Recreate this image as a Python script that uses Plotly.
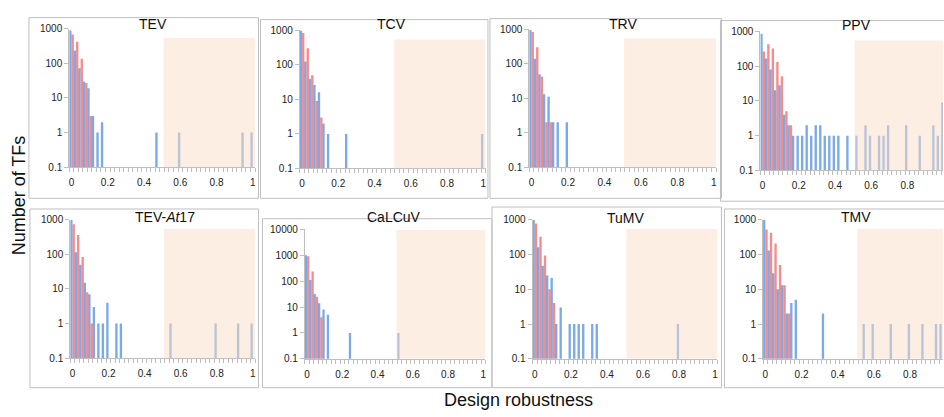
import plotly.graph_objects as go

# Bin centres (design robustness), 41 categories 0..1 step 0.025
bins = [0, 0.025, 0.05, 0.075, 0.1, 0.125, 0.15, 0.175, 0.2, 0.225,
        0.25, 0.275, 0.3, 0.325, 0.35, 0.375, 0.4, 0.425, 0.45, 0.475,
        0.5, 0.525, 0.55, 0.575, 0.6, 0.625, 0.65, 0.675, 0.7, 0.725,
        0.75, 0.775, 0.8, 0.825, 0.85, 0.875, 0.9, 0.925, 0.95, 0.975, 1.0]

xtick_vals = [0, 0.2, 0.4, 0.6, 0.8, 1.0]
xtick_text = ["0", "0.2", "0.4", "0.6", "0.8", "1"]

# ---- values (blue series, red series), index = bin ----
tev_blue = [880, 235, 72, 30, 19, 3, 1, 2, 0, 0,
            0, 0, 0, 0, 0, 0, 0, 0, 0, 1,
            0, 0, 0, 0, 1, 0, 0, 0, 0, 0,
            0, 0, 0, 0, 0, 0, 0, 0, 1, 0, 1]
tev_red = [680, 420, 135, 27, 3, 0, 0, 0, 0, 0,
           0, 0, 0, 0, 0, 0, 0, 0, 0, 0,
           0, 0, 0, 0, 0, 0, 0, 0, 0, 0,
           0, 0, 0, 0, 0, 0, 0, 0, 0, 0, 0]

tcv_blue = [980, 125, 39, 26, 16, 2, 1, 0, 0, 0,
            1, 0, 0, 0, 0, 0, 0, 0, 0, 0,
            0, 0, 0, 0, 0, 0, 0, 0, 0, 0,
            0, 0, 0, 0, 0, 0, 0, 0, 0, 0, 1]
tcv_red = [840, 300, 50, 9, 3, 0, 0, 0, 0, 0,
           0, 0, 0, 0, 0, 0, 0, 0, 0, 0,
           0, 0, 0, 0, 0, 0, 0, 0, 0, 0,
           0, 0, 0, 0, 0, 0, 0, 0, 0, 0, 0]

trv_blue = [950, 140, 50, 13, 11, 2, 2, 0, 2, 0,
            0, 0, 0, 0, 0, 0, 0, 0, 0, 0,
            0, 0, 0, 0, 0, 0, 0, 0, 0, 0,
            0, 0, 0, 0, 0, 0, 0, 0, 0, 0, 0]
trv_red = [830, 300, 43, 2, 2, 0, 0, 0, 0, 0,
           0, 0, 0, 0, 0, 0, 0, 0, 0, 0,
           0, 0, 0, 0, 0, 0, 0, 0, 0, 0,
           0, 0, 0, 0, 0, 0, 0, 0, 0, 0, 0]

ppv_blue = [850, 165, 80, 20, 28, 4, 2, 1, 1, 1,
            2, 1, 2, 2, 1, 1, 1, 1, 0, 1,
            0, 1, 0, 2, 1, 0, 1, 1, 2, 0,
            0, 0, 2, 0, 0, 1, 0, 0, 2, 1, 9]
ppv_red = [260, 420, 320, 130, 51, 5, 2, 0, 0, 0,
           0, 0, 0, 0, 0, 0, 0, 0, 0, 0,
           0, 0, 0, 0, 0, 0, 0, 0, 0, 0,
           0, 0, 0, 0, 0, 0, 0, 0, 0, 0, 0]

at17_blue = [980, 115, 50, 15, 7, 3, 1, 1, 4, 0,
             1, 1, 0, 0, 0, 0, 0, 0, 0, 0,
             0, 0, 1, 0, 0, 0, 0, 0, 0, 0,
             0, 0, 1, 0, 0, 0, 0, 1, 0, 0, 1]
at17_red = [740, 360, 83, 8, 1, 0, 0, 0, 0, 0,
            0, 0, 0, 0, 0, 0, 0, 0, 0, 0,
            0, 0, 0, 0, 0, 0, 0, 0, 0, 0,
            0, 0, 0, 0, 0, 0, 0, 0, 0, 0, 0]

calcuv_blue = [1000, 112, 32, 14, 8, 5, 0, 0, 0, 0,
               1, 0, 0, 0, 0, 0, 0, 0, 0, 0,
               0, 1, 0, 0, 0, 0, 0, 0, 0, 0,
               0, 0, 0, 0, 0, 0, 0, 0, 0, 0, 0]
calcuv_red = [920, 237, 25, 4, 0, 0, 0, 0, 0, 0,
              0, 0, 0, 0, 0, 0, 0, 0, 0, 0,
              0, 0, 0, 0, 0, 0, 0, 0, 0, 0,
              0, 0, 0, 0, 0, 0, 0, 0, 0, 0, 0]

tumv_blue = [980, 160, 47, 25, 21, 1, 3, 0, 1, 1,
             1, 1, 0, 1, 1, 0, 0, 0, 0, 0,
             0, 0, 0, 0, 0, 0, 0, 0, 0, 0,
             0, 0, 1, 0, 0, 0, 0, 0, 0, 0, 0]
tumv_red = [770, 325, 93, 10, 4, 0, 0, 0, 0, 0,
            0, 0, 0, 0, 0, 0, 0, 0, 0, 0,
            0, 0, 0, 0, 0, 0, 0, 0, 0, 0,
            0, 0, 0, 0, 0, 0, 0, 0, 0, 0, 0]

tmv_blue = [1000, 130, 29, 10, 13, 2, 4, 5, 0, 0,
            0, 0, 0, 2, 0, 0, 0, 0, 0, 0,
            0, 0, 1, 0, 1, 0, 0, 0, 1, 0,
            0, 0, 1, 0, 0, 1, 0, 0, 1, 1, 0]
tmv_red = [520, 420, 205, 50, 13, 2, 0, 0, 0, 0,
           0, 0, 0, 0, 0, 0, 0, 0, 0, 0,
           0, 0, 0, 0, 0, 0, 0, 0, 0, 0,
           0, 0, 0, 0, 0, 0, 0, 0, 0, 0, 0]

W, H = 944, 417

panels = [
    # title, blue, red, plot-area px (left, right, top, bottom), x range end, log y top,
    # box px (x0, x1, y0, y1), title px (x, y), shading top
    ("TEV", tev_blue, tev_red, (68.4, 254.6, 23.3, 166.0), 1.0125, 3,
     (28, 258, 12, 198), (152.7, 19), 540),
    ("TCV", tcv_blue, tcv_red, (299.4, 485.6, 25.0, 167.3), 1.0125, 3,
     (260, 488, 14, 198), (391, 19), 540),
    ("TRV", trv_blue, trv_red, (529.4, 716.6, 24.0, 166.0), 1.0125, 3,
     (490, 722, 13, 198), (623, 19), 540),
    ("PPV", ppv_blue, ppv_red, (761.0, 944.0, 26.0, 169.3), 0.997, 3,
     (721, 960, 15, 201), (857, 20), 540),
    ("TEV-<i>At</i>17", at17_blue, at17_red, (69.4, 254.6, 220.0, 362.7), 1.0125, 3,
     (29, 258, 209, 393), (164, 217), 540),
    ("CaLCuV", calcuv_blue, calcuv_red, (304.5, 485.5, 230.0, 363.3), 1.0125, 4,
     (262, 492, 219, 393), (394, 217), 9500),
    ("TuMV", tumv_blue, tumv_red, (532.7, 717.9, 220.0, 363.3), 1.0125, 3,
     (492, 722, 207, 393), (626, 218), 540),
    ("TMV", tmv_blue, tmv_red, (763.7, 944.0, 220.0, 363.3), 0.982, 3,
     (725, 960, 209, 393), (857, 217), 540),
]

BLUE = "rgba(84,146,224,0.78)"
RED = "rgba(240,96,96,0.72)"
SHADE = "rgba(249,221,197,0.5)"
AXIS = "#BFBFBF"
FONT = "Liberation Sans, Arial, sans-serif"

fig = go.Figure()
layout = dict(
    width=W, height=H,
    margin=dict(l=0, r=0, t=0, b=0),
    paper_bgcolor="white", plot_bgcolor="rgba(0,0,0,0)",
    showlegend=False, barmode="overlay",
    font=dict(family=FONT, size=10, color="#222222"),
)
shapes = []
annotations = []

def px_x(v):
    return v / W

def px_y(v):
    return 1 - v / H

bw = 0.013
for i, (title, blue, red, area, xend, ytop, box, tpos, shade_top) in enumerate(panels):
    n = "" if i == 0 else str(i + 1)
    xa, ya = "x" + n, "y" + n
    yb = [v if v > 0 else None for v in blue]
    yr = [v if v > 0 else None for v in red]
    fig.add_trace(go.Bar(x=bins, y=yb, width=bw, offset=-bw, marker=dict(color=BLUE, line=dict(width=0)),
                         xaxis=xa, yaxis=ya, name="blue"))
    fig.add_trace(go.Bar(x=bins, y=yr, width=bw, offset=0, marker=dict(color=RED, line=dict(width=0)),
                         xaxis=xa, yaxis=ya, name="red"))
    l, r, t, b = area
    if ytop == 3:
        yt_vals = [0.1, 1, 10, 100, 1000]
        yt_text = ["0.1", "1", "10", "100", "1000"]
    else:
        yt_vals = [0.1, 1, 10, 100, 1000, 10000]
        yt_text = ["0.1", "1", "10", "100", "1000", "10000"]
    layout["xaxis" + n] = dict(
        domain=[px_x(l), min(1.0, px_x(r))], range=[-0.0125, xend], anchor=ya,
        showline=True, linecolor=AXIS, linewidth=1, showgrid=False, zeroline=False,
        tickmode="array", tickvals=xtick_vals, ticktext=xtick_text,
        ticks="outside", ticklen=6, tickcolor="rgba(0,0,0,0)",
        minor=dict(ticks="outside", tick0=-0.0125, dtick=0.025, ticklen=4,
                   tickcolor=AXIS, showgrid=False),
        tickfont=dict(size=10, family=FONT, color="#222222"), fixedrange=True,
    )
    layout["yaxis" + n] = dict(
        domain=[px_y(b), px_y(t)], type="log", range=[-1, ytop], anchor=xa,
        showline=True, linecolor=AXIS, linewidth=1, showgrid=False, zeroline=False,
        tickmode="array", tickvals=yt_vals, ticktext=yt_text,
        ticks="outside", ticklen=4, tickcolor=AXIS,
        tickfont=dict(size=10, family=FONT, color="#222222"), fixedrange=True,
    )
    shapes.append(dict(type="rect", xref=xa, yref=ya, x0=0.508, x1=1.0125, y0=0.1, y1=shade_top,
                       fillcolor=SHADE, line=dict(width=0), layer="above"))
    bx0, bx1, by0, by1 = box
    shapes.append(dict(type="rect", xref="paper", yref="paper",
                       x0=px_x(bx0), x1=px_x(bx1), y0=px_y(by1), y1=px_y(by0),
                       line=dict(color=AXIS, width=1), fillcolor="rgba(0,0,0,0)", layer="above"))
    annotations.append(dict(text=title, xref="paper", yref="paper", x=px_x(tpos[0]), y=px_y(tpos[1]),
                            xanchor="center", yanchor="middle", showarrow=False,
                            font=dict(size=14, family=FONT, color="#111111")))

annotations.append(dict(text="Number of TFs", xref="paper", yref="paper", x=px_x(18), y=px_y(195),
                        xanchor="center", yanchor="middle", textangle=-90, showarrow=False,
                        font=dict(size=18, family=FONT, color="#111111")))
annotations.append(dict(text="Design robustness", xref="paper", yref="paper", x=px_x(519), y=px_y(406),
                        xanchor="center", yanchor="middle", showarrow=False,
                        font=dict(size=18, family=FONT, color="#111111")))

layout["shapes"] = shapes
layout["annotations"] = annotations
fig.update_layout(**layout)
fig.write_html("out.html")
